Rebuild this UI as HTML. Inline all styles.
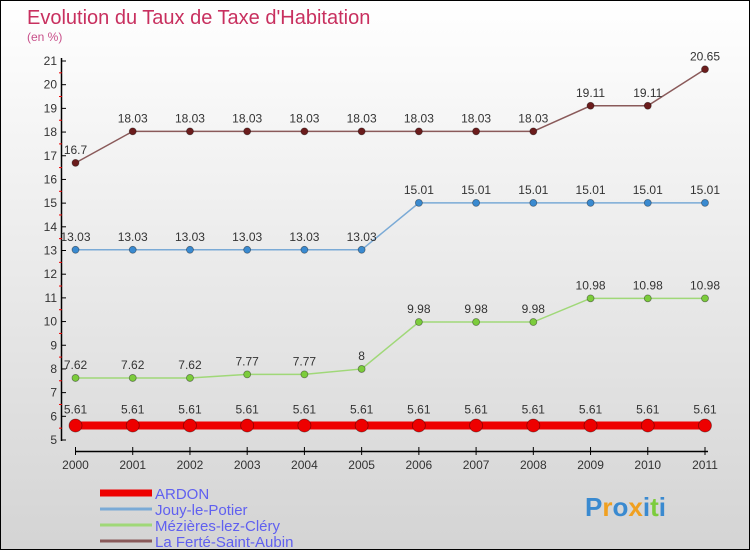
<!DOCTYPE html>
<html><head><meta charset="utf-8"><style>
body{margin:0}
#c{width:750px;height:550px;position:relative;box-sizing:border-box;border:1px solid #000;background:linear-gradient(#ffffff,#d4d4d4);font-family:"Liberation Sans",sans-serif;overflow:hidden}
</style></head><body>
<div id="c">
<svg id="s" width="750" height="550" style="position:absolute;left:-1px;top:-1px"></svg>
</div>
<script>
const years=[2000,2001,2002,2003,2004,2005,2006,2007,2008,2009,2010,2011];
const ardon=[5.61,5.61,5.61,5.61,5.61,5.61,5.61,5.61,5.61,5.61,5.61,5.61];
const jouy=[13.03,13.03,13.03,13.03,13.03,13.03,15.01,15.01,15.01,15.01,15.01,15.01];
const mezieres=[7.62,7.62,7.62,7.77,7.77,8,9.98,9.98,9.98,10.98,10.98,10.98];
const laferte=[16.7,18.03,18.03,18.03,18.03,18.03,18.03,18.03,18.03,19.11,19.11,20.65];
const yTicks=[5,6,7,8,9,10,11,12,13,14,15,16,17,18,19,20,21];
const seriesNames=["ARDON","Jouy-le-Potier","Mézières-lez-Cléry","La Ferté-Saint-Aubin"];
const NS="http://www.w3.org/2000/svg";
const s=document.getElementById('s');
function X(i){return 75.5+i*(705-75.5)/(years.length-1);}
function Y(v){return 440-(v-5)*(440-61)/16;}
function el(t,a,p){const e=document.createElementNS(NS,t);for(const k in a)e.setAttribute(k,a[k]);(p||s).appendChild(e);return e;}
function txt(x,y,str,size,fill,anchor){const t=el('text',{x:x,y:y,'font-size':size,fill:fill,'text-anchor':anchor||'start','font-family':'Liberation Sans, sans-serif'});t.textContent=str;return t;}
let t=txt(27,24,"Evolution du Taux de Taxe d'Habitation",20,'#c8305f');

t=txt(27,41,"(en %)",12,'#c8508a');

let a=el('line',{x1:61.5,y1:58,x2:61.5,y2:441,stroke:'#000','stroke-width':1.5});

a=el('line',{x1:75,y1:451.5,x2:708,y2:451.5,stroke:'#000','stroke-width':1.5});

yTicks.forEach(v=>{
  el('line',{x1:61,y1:Y(v),x2:66,y2:Y(v),stroke:'#000'});
  if(v<21)el('line',{x1:59,y1:Y(v+0.5),x2:62,y2:Y(v+0.5),stroke:'#e00'});
  const l=txt(57,Y(v)+4,String(v),12,'#333','end');
  
});
years.forEach((yr,i)=>{
  el('line',{x1:X(i),y1:447,x2:X(i),y2:455,stroke:'#000'});
  const l=txt(X(i),469,String(yr),12,'#333','middle');
  
});
function series(data,color,dot,w,r,name){
  const g=el('g',{});
  
  el('polyline',{points:data.map((v,i)=>X(i)+','+Y(v)).join(' '),fill:'none',stroke:color,'stroke-width':w},g);
  data.forEach((v,i)=>{
    const c=el('circle',{cx:X(i),cy:Y(v),r:r,fill:dot,stroke:'rgba(0,0,0,0.4)','stroke-width':0.8},g);
    
    const l=txt(X(i),Y(v)-(r>5?12:9),String(v),12,'#333','middle');
    
    g.appendChild(l);
  });
}
series(laferte,'#8a5a5a','#6b1c1c',1.5,3.5,'series-la-ferte');
series(jouy,'#7aaad6','#3a8ad0',1.5,3.5,'series-jouy');
series(mezieres,'#a0d878','#7ccc3c',1.5,3.5,'series-mezieres');
series(ardon,'#ee0000','#ee0000',8,6.5,'series-ardon');
const lc=['#ee0000','#7aaad6','#a0d878','#8a5a5a'],lw=[7,3,3,3];
seriesNames.forEach((n,i)=>{
  const y=493+i*16;
  const g=el('g',{});
  
  el('rect',{x:100,y:y-lw[i]/2,width:52,height:lw[i],fill:lc[i]},g);
  const l=txt(155,y+6,n,15,'#6060f0');g.appendChild(l);
});
const lg=txt(585,516,'',26,'#3a8ad0');

lg.setAttribute('font-weight','bold');
[['P','#3a8ad0'],['r','#f0a020'],['o','#3a8ad0'],['x','#f0a020'],['i','#3a8ad0'],['t','#7ccc3c'],['i','#3a8ad0']].forEach(([c,f])=>{const ts=el('tspan',{fill:f},lg);ts.textContent=c;});
</script>
</body></html>
